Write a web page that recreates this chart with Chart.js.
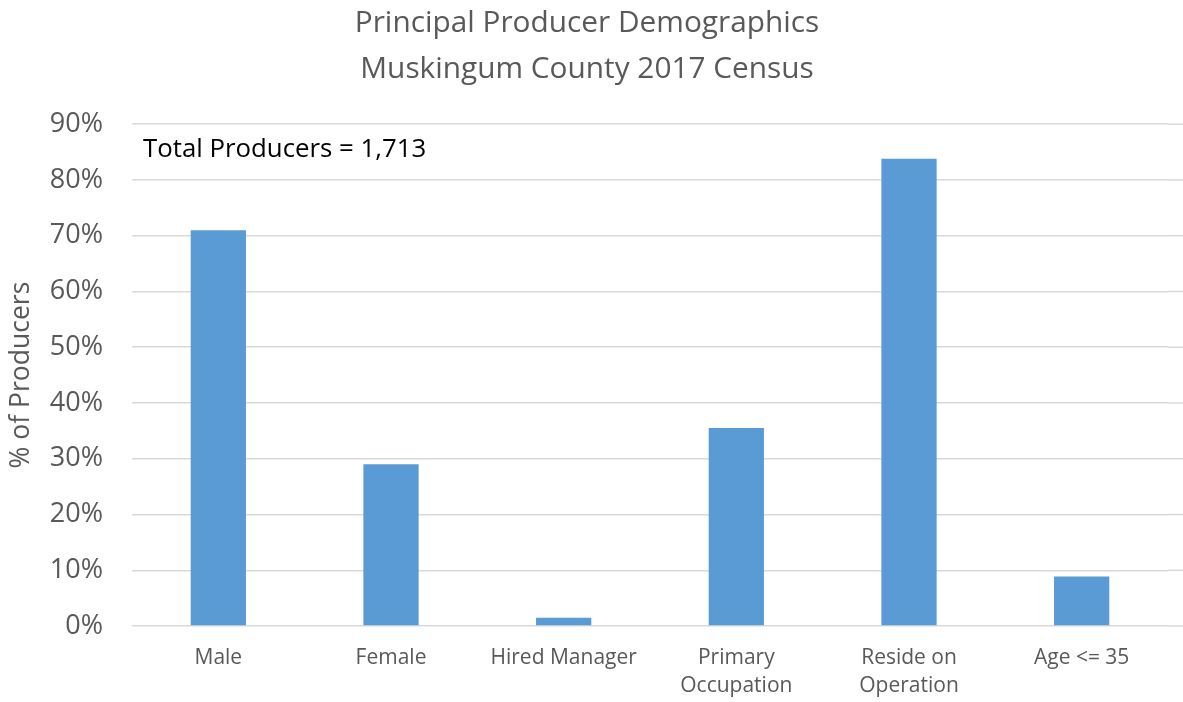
<!DOCTYPE html>
<html>
<head>
<meta charset="utf-8">
<script src="https://cdn.jsdelivr.net/npm/chart.js@4/dist/chart.umd.min.js"></script>
<style>
  html, body { margin: 0; padding: 0; background: #ffffff; }
  #wrap { width: 1183px; height: 702px; }
</style>
</head>
<body>
<div id="wrap"><canvas id="c" width="1183" height="702"></canvas></div>
<script>
const categories = ["Male", "Female", "Hired Manager", ["Primary", "Occupation"], ["Reside on", "Operation"], "Age <= 35"];
const percentProducers = [71.0, 29.0, 1.5, 35.5, 83.8, 8.9];
const yTicks = [0, 10, 20, 30, 40, 50, 60, 70, 80, 90];
const titleLines = ["Principal Producer Demographics", "Muskingum County 2017 Census"];
const yAxisTitle = "% of Producers";
const noteText = "Total Producers = 1,713";

const FONT = "'Open Sans', 'Noto Sans', sans-serif";
const GREY = "#595959";
const GRID = "#D9D9D9";

const notePlugin = {
  id: "note",
  beforeDatasetsDraw(chart) {
    // extend the horizontal gridlines to the right edge of the picture
    const ctx = chart.ctx;
    const a = chart.chartArea;
    const ys = chart.scales.y;
    ctx.save();
    ctx.strokeStyle = GRID;
    ctx.lineWidth = 1.5;
    yTicks.forEach(v => {
      const y = ys.getPixelForValue(v);
      ctx.beginPath();
      ctx.moveTo(a.right, y);
      ctx.lineTo(chart.width, y);
      ctx.stroke();
    });
    ctx.restore();
  },
  afterDraw(chart) {
    const ctx = chart.ctx;
    const a = chart.chartArea;
    ctx.save();
    ctx.font = "25.8px " + FONT;
    ctx.fillStyle = "#000000";
    ctx.textBaseline = "middle";
    ctx.textAlign = "left";
    ctx.fillText(noteText, a.left + 11, a.top + 25);
    ctx.restore();
  }
};

new Chart(document.getElementById("c"), {
  type: "bar",
  data: {
    labels: categories,
    datasets: [{
      data: percentProducers,
      backgroundColor: "#5B9BD5",
      borderColor: "#5B9BD5",
      borderWidth: 0,
      barPercentage: 0.32,
      categoryPercentage: 1.0
    }]
  },
  options: {
    responsive: false,
    animation: false,
    layout: { padding: { left: 6, right: 15, top: 1, bottom: -16 } },
    plugins: {
      legend: { display: false },
      tooltip: { enabled: false },
      title: {
        display: true,
        text: titleLines,
        color: GREY,
        font: { family: FONT, size: 29.8, weight: "normal", lineHeight: 1.53 },
        padding: { top: 0, bottom: 32 }
      }
    },
    scales: {
      x: {
        grid: { display: false, drawTicks: false },
        border: { display: false },
        ticks: {
          color: GREY,
          font: { family: FONT, size: 21, lineHeight: 1.38 },
          maxRotation: 0,
          autoSkip: false,
          padding: 17
        }
      },
      y: {
        min: 0,
        max: 90,
        afterBuildTicks(axis) { axis.ticks = yTicks.map(v => ({ value: v })); },
        afterFit(axis) { axis.width = 126; },
        grid: { color: GRID, lineWidth: 1.5, drawTicks: false },
        border: { display: false },
        ticks: {
          color: GREY,
          font: { family: FONT, size: 27 },
          padding: 29,
          callback: v => v + "%"
        },
        title: {
          display: true,
          text: yAxisTitle,
          color: GREY,
          font: { family: FONT, size: 26.5 },
          padding: { top: 0, bottom: 6 }
        }
      }
    }
  },
  plugins: [notePlugin]
});
</script>
</body>
</html>
